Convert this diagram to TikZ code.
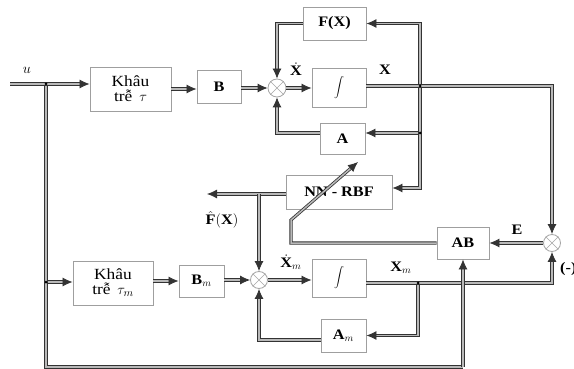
\documentclass[tikz,border=0pt]{standalone}
\usepackage{fontspec}
\setmainfont{Liberation Serif}[FakeStretch=1.12]
\usetikzlibrary{arrows.meta}
\begin{document}
\begin{tikzpicture}[x=1pt,y=-1pt,
  font=\fontsize{14.5}{16}\selectfont,
  line/.style={draw=black!80, line width=0.8pt, double=gray!55, double distance=1.5pt},
  arr/.style={line, -{Latex[length=10pt,width=9pt]}},
  blk/.style={draw=gray!75, line width=0.9pt, fill=white, rectangle, inner sep=0pt, align=center},
  khb/.style={blk, font=\fontsize{15.5}{15}\selectfont},
  sumj/.style={draw=gray!70, line width=0.8pt, fill=white, circle, minimum size=#1, inner sep=0pt},
  dotj/.style={circle, fill=black, inner sep=0pt, minimum size=3pt},
  lbl/.style={inner sep=1pt}]
\useasboundingbox (0,0) rectangle (574,369);
% blocks
\node[khb, minimum width=81pt, minimum height=44pt] (khau) at (130.5,89) {Khâu\\trễ\, $\tau$};
\node[blk, minimum width=44pt, minimum height=33pt] (B) at (219,86.5) {\textbf{B}};
\node[sumj=18pt] (s1) at (277,88) {};
\node[blk, minimum width=63pt, minimum height=33pt] (FX) at (334.5,23.5) {\textbf{F(X)}};
\node[blk, minimum width=54pt, minimum height=39pt] (int1) at (339,87.5) {\LARGE$\displaystyle\int$};
\node[blk, minimum width=45pt, minimum height=31pt] (A) at (342.5,138.5) {\textbf{A}};
\node[blk, minimum width=106pt, minimum height=34pt] (NN) at (339,192) {\textbf{NN - RBF}};
\node[blk, minimum width=52pt, minimum height=32pt] (AB) at (463,243) {\textbf{AB}};
\node[sumj=17pt] (s3) at (552,243) {};
\node[khb, minimum width=80pt, minimum height=44pt] (khaum) at (113,283) {Khâu\\trễ\, $\tau_{m}$};
\node[blk, minimum width=45pt, minimum height=32pt] (Bm) at (201.5,281) {$\textbf{B}_m$};
\node[sumj=17pt] (s2) at (259,280) {};
\node[blk, minimum width=54pt, minimum height=38pt] (int2) at (339,278) {\LARGE$\displaystyle\int$};
\node[blk, minimum width=45pt, minimum height=33pt] (Am) at (343.5,335.5) {$\textbf{A}_m$};
% crosses in summing junctions
\foreach \s in {s1,s2,s3}{
  \draw[gray!70, line width=0.7pt] (\s.north west) -- (\s.south east) (\s.north east) -- (\s.south west);
}
% junction coordinates
\coordinate (uin) at (10,84);
\node[dotj] (j0) at (46,84) {};
\node[dotj] (j5) at (46,282) {};
\node[dotj] (j1) at (420,86) {};
\node[dotj] (j2) at (420,133) {};
\node[dotj] (j4) at (418,283) {};
\coordinate (bl) at (46,367);
\coordinate (br) at (463,367);
\coordinate (xr) at (552,86);
\coordinate (xmr) at (552,283);
\coordinate (nnout) at (207,194);
\coordinate (j3) at (259,194);
\coordinate (c1) at (291,243);
\coordinate (c2) at (291,220);
\coordinate (c3) at (358,162);
% upper branch
\draw[arr] (uin) -- (khau.west |- uin);
\draw[arr] (khau.east) -- (B.west |- khau.east);
\draw[arr] (B.east |- s1) -- (s1.west);
\draw[arr] (s1.east) -- (int1.west |- s1);
\draw[arr] (int1.east |- j1) -- (xr) -- (s3.north);
\draw[arr] (FX.west) -| (s1.north);
\draw[arr] (A.west |- j2) -| (s1.south);
\draw[arr] (j1) |- (FX.east);
\draw[arr] (j2) -- (A.east |- j2);
\draw[arr] (j1) |- ([yshift=4pt]NN.east);
% NN-RBF output
\draw[arr] ([yshift=-2pt]NN.west) -- (nnout);
\draw[arr] (j3) -- (s2.north);
\draw[arr] (AB.west) -- (c1) -- (c2) -- (c3);
% error path
\draw[arr] (s3.west) -- (AB.east);
\draw[arr] (int2.east |- j4) -- (xmr) -- (s3.south);
% lower branch
\draw[line] (j0) -- (bl) -- (br);
\draw[arr] (br) -- (AB.south);
\draw[arr] (j5) -- (khaum.west |- j5);
\draw[arr] (khaum.east |- Bm) -- (Bm.west);
\draw[arr] (Bm.east |- s2) -- (s2.west);
\draw[arr] (s2.east) -- (int2.west |- s2);
\draw[arr] (j4) |- (Am.east);
\draw[arr] ([yshift=-4.5pt]Am.west) -| (s2.south);
% redraw dots on top
\foreach \d in {j0,j1,j2,j4,j5}{\fill (\d) circle (1.5pt);}
% labels
\node[lbl] (lu) at (27,70) {$u$};
\node[lbl] (lxd) at (296,69) {$\dot{\textbf{X}}$};
\node[lbl] (lx) at (385,70) {\textbf{X}};
\node[lbl] (lfh) at (222,220) {$\hat{\textbf{F}}(\textbf{X})$};
\node[lbl] (lxd2) at (291,262) {$\dot{\textbf{X}}_m$};
\node[lbl] (lxm) at (401,268) {$\textbf{X}_m$};
\node[lbl] (le) at (517,230) {\textbf{E}};
\node[lbl, anchor=west] (lneg) at (559,269) {\textbf{(-)}};
\end{tikzpicture}
\end{document}
